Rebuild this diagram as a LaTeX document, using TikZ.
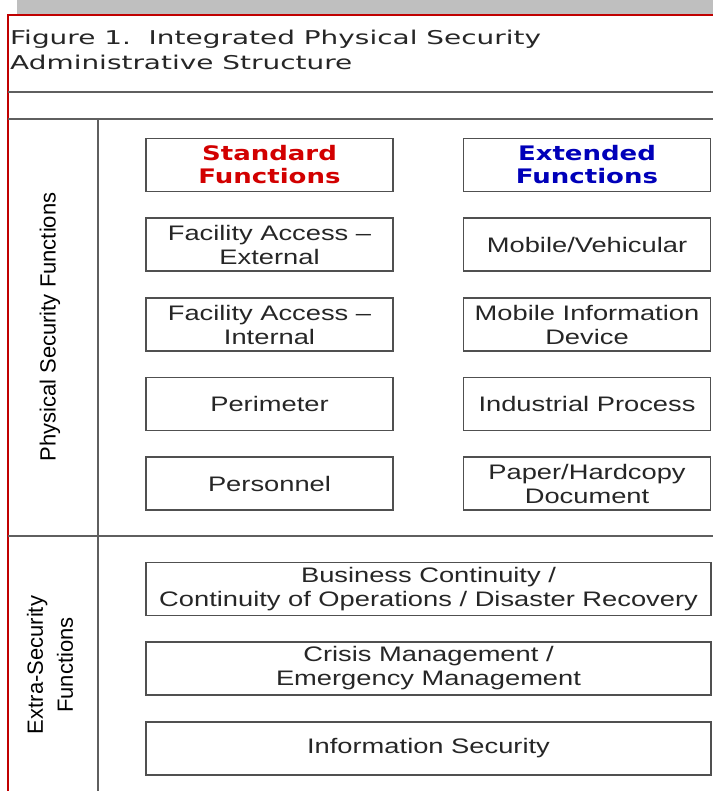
\documentclass[tikz,border=0pt]{standalone}
\usepackage{fontspec}
\setmainfont{Liberation Sans}
\newfontfamily\boxfont{Liberation Sans}[FakeStretch=1.3]
\newfontfamily\headfont{DejaVu Sans}[FakeStretch=1.3]
\newfontfamily\titlefont{DejaVu Sans}[FakeStretch=1.47]
\definecolor{framered}{RGB}{192,0,0}
\definecolor{rulegray}{RGB}{95,95,95}
\definecolor{boxgray}{RGB}{80,80,80}
\definecolor{stdred}{RGB}{210,0,0}
\definecolor{extblue}{RGB}{0,0,185}
\definecolor{bargray}{RGB}{191,191,191}

\begin{document}
\begin{tikzpicture}[x=1pt,y=-1pt,
    funcbox/.style={draw=boxgray, line width=1.5pt, minimum height=53pt,
      inner sep=0pt, align=center, text=black!85,
      font=\boxfont\fontsize{21}{24}\selectfont},
    colbox/.style={funcbox, minimum width=247pt},
    widebox/.style={funcbox, minimum width=565pt},
    headtext/.style={font=\headfont\bfseries\fontsize{20}{23}\selectfont},
    sidelabel/.style={rotate=90, align=center, inner sep=0pt,
      font=\fontsize{22}{30}\selectfont},
    rule/.style={draw=rulegray, line width=1.6pt}
  ]
  \useasboundingbox (0,0) rectangle (713,791);

  % page frame
  \fill[bargray] (17,0) rectangle (713,14);
  \draw[framered, line width=2.5pt] (8,791) -- (8,15) -- (713,15);

  % title
  \node[anchor=base west, align=left, inner sep=0pt,
    font=\titlefont\fontsize{19}{25}\selectfont, text=black!85] (title) at (10,70)
    {Figure 1.\ \ Integrated Physical Security\\Administrative Structure};

  % table rules
  \draw[rule] (8,92) -- (713,92);
  \draw[rule] (8,119) -- (713,119);
  \draw[rule] (8,536) -- (713,536);
  \draw[rule] (98,119) -- (98,791);

  % side labels
  \node[sidelabel] (physlab) at (50,327) {Physical Security Functions};
  \node[sidelabel] (extralab) at (50,665) {Extra-Security\\Functions};

  % standard functions
  \node[colbox, headtext, text=stdred] (std) at (269.5,165) {Standard\\Functions};
  \node[colbox] (accext) at (269.5,244.5) {Facility Access \textendash\\External};
  \node[colbox] (accint) at (269.5,324.5) {Facility Access \textendash\\Internal};
  \node[colbox] (perim) at (269.5,404) {Perimeter};
  \node[colbox] (pers) at (269.5,483.5) {Personnel};

  % extended functions
  \node[colbox, headtext, text=extblue] (ext) at (587,165) {Extended\\Functions};
  \node[colbox] (mobveh) at (587,244.5) {Mobile/Vehicular};
  \node[colbox] (mobdev) at (587,324.5) {Mobile Information\\Device};
  \node[colbox] (indproc) at (587,404) {Industrial Process};
  \node[colbox] (paper) at (587,483.5) {Paper/Hardcopy\\Document};

  % extra-security functions
  \node[widebox] (bcp) at (428.5,589) {Business Continuity /\\Continuity of Operations / Disaster Recovery};
  \node[widebox] (crisis) at (428.5,668.5) {Crisis Management /\\Emergency Management};
  \node[widebox] (infosec) at (428.5,748.5) {Information Security};
\end{tikzpicture}
\end{document}
